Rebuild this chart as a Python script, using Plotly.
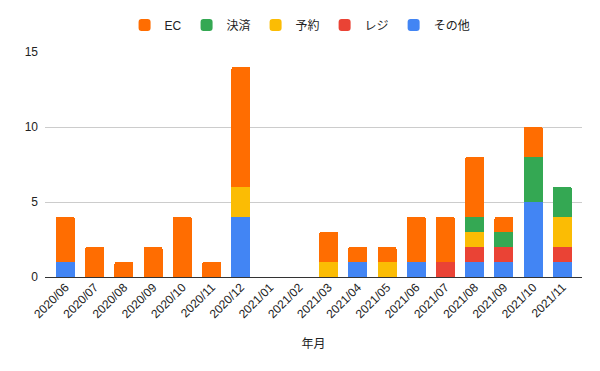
import plotly.graph_objects as go

months = ["2020/06", "2020/07", "2020/08", "2020/09", "2020/10", "2020/11", "2020/12",
          "2021/01", "2021/02", "2021/03", "2021/04", "2021/05", "2021/06", "2021/07",
          "2021/08", "2021/09", "2021/10", "2021/11"]
sonota = [1, 0, 0, 0, 0, 0, 4, 0, 0, 0, 1, 0, 1, 0, 1, 1, 5, 1]
reji   = [0, 0, 0, 0, 0, 0, 0, 0, 0, 0, 0, 0, 0, 1, 1, 1, 0, 1]
yoyaku = [0, 0, 0, 0, 0, 0, 2, 0, 0, 1, 0, 1, 0, 0, 1, 0, 0, 2]
kessai = [0, 0, 0, 0, 0, 0, 0, 0, 0, 0, 0, 0, 0, 0, 1, 1, 3, 2]
ec     = [3, 2, 1, 2, 4, 1, 8, 0, 0, 2, 1, 1, 3, 3, 4, 1, 2, 0]

series = [
    ("その他", sonota, "#4285f4"),
    ("レジ", reji, "#ea4335"),
    ("予約", yoyaku, "#fbbc04"),
    ("決済", kessai, "#34a853"),
    ("EC", ec, "#ff6d01"),
]

fig = go.Figure()
for name, vals, color in series:
    fig.add_trace(go.Bar(x=months, y=vals, name=name, marker=dict(color=color, line=dict(width=0))))

font = "Arial, Liberation Sans, Noto Sans CJK JP, sans-serif"
fig.update_layout(
    barmode="stack",
    bargap=0.35,
    barcornerradius=2,
    width=600, height=371,
    margin=dict(l=37, r=26, t=44, b=102, autoexpand=False),
    paper_bgcolor="white", plot_bgcolor="white",
    font=dict(family=font, size=12, color="#222"),
    legend=dict(orientation="h", x=0.475, xanchor="center", y=1.12, yanchor="middle",
                traceorder="reversed", font=dict(size=12, color="#222"),
                itemwidth=30),
    xaxis=dict(range=[-0.7, 17.67], tickangle=-45, showgrid=False, automargin=False,
               title=dict(text="年月", font=dict(size=12, color="#222"), standoff=19),
               tickfont=dict(size=12, color="#222"), ticks="", showline=False),
    yaxis=dict(range=[0, 15], tickvals=[0, 5, 10, 15], showgrid=True, gridcolor="#cccccc",
               zeroline=True, zerolinecolor="#333333", zerolinewidth=1, automargin=False,
               tickfont=dict(size=12, color="#222"), ticks="", ticklabelstandoff=6),
)
fig.write_html("out.html")
